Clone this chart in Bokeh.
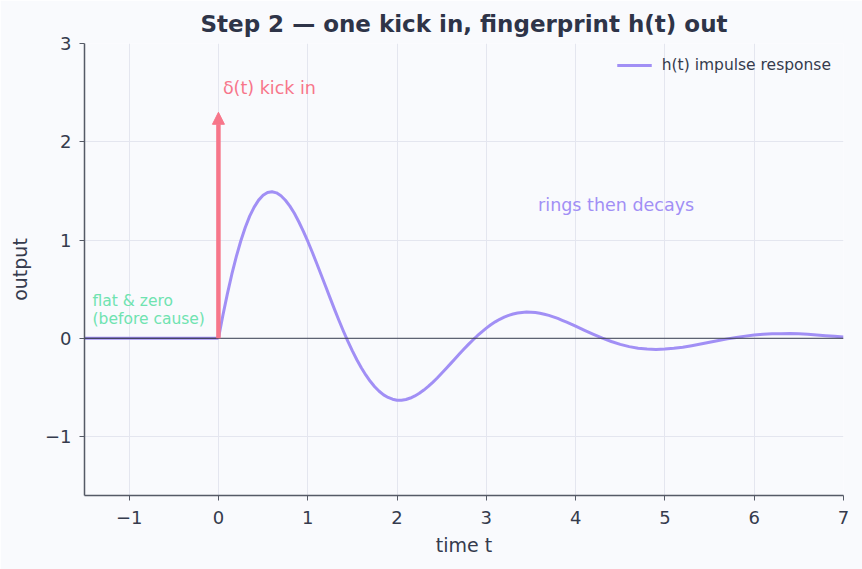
from bokeh.plotting import figure
from bokeh.models import Arrow, NormalHead, Span, Label, Legend, LegendItem, Range1d, FixedTicker
from bokeh.embed import file_html
from bokeh.resources import INLINE

# ---- data ----
t_flat = [-1.5, 0.0]
h_flat = [0.0, 0.0]
t_resp = [0.0, 0.05, 0.1, 0.15, 0.2, 0.25, 0.3, 0.35, 0.4, 0.45,
          0.5, 0.55, 0.6, 0.65, 0.7, 0.75, 0.8, 0.85, 0.9, 0.95,
          1.0, 1.05, 1.1, 1.15, 1.2, 1.25, 1.3, 1.35, 1.4, 1.45,
          1.5, 1.55, 1.6, 1.65, 1.7, 1.75, 1.8, 1.85, 1.9, 1.95,
          2.0, 2.05, 2.1, 2.15, 2.2, 2.25, 2.3, 2.35, 2.4, 2.45,
          2.5, 2.55, 2.6, 2.65, 2.7, 2.75, 2.8, 2.85, 2.9, 2.95,
          3.0, 3.05, 3.1, 3.15, 3.2, 3.25, 3.3, 3.35, 3.4, 3.45,
          3.5, 3.55, 3.6, 3.65, 3.7, 3.75, 3.8, 3.85, 3.9, 3.95,
          4.0, 4.1, 4.2, 4.3, 4.4, 4.5, 4.6, 4.7, 4.8, 4.9,
          5.0, 5.1, 5.2, 5.3, 5.4, 5.5, 5.6, 5.7, 5.8, 5.9,
          6.0, 6.1, 6.2, 6.3, 6.4, 6.5, 6.6, 6.7, 6.8, 6.9, 7.0]
h_resp = [0.0, 0.234, 0.452, 0.652, 0.831, 0.990, 1.127, 1.243, 1.335, 1.406,
          1.455, 1.484, 1.492, 1.480, 1.451, 1.405, 1.345, 1.272, 1.186, 1.091,
          0.988, 0.878, 0.764, 0.647, 0.529, 0.411, 0.294, 0.181, 0.072, -0.031,
          -0.128, -0.218, -0.300, -0.373, -0.438, -0.493, -0.539, -0.576, -0.602, -0.620,
          -0.630, -0.630, -0.623, -0.608, -0.587, -0.560, -0.527, -0.490, -0.448, -0.404,
          -0.356, -0.307, -0.258, -0.208, -0.158, -0.109, -0.062, -0.017, 0.026, 0.066,
          0.103, 0.137, 0.167, 0.193, 0.215, 0.233, 0.247, 0.257, 0.263, 0.267,
          0.266, 0.262, 0.255, 0.245, 0.233, 0.218, 0.202, 0.183, 0.165, 0.145,
          0.123, 0.081, 0.040, 0.001, -0.033, -0.062, -0.085, -0.101, -0.110, -0.113,
          -0.110, -0.102, -0.091, -0.075, -0.059, -0.041, -0.023, -0.006, 0.009, 0.022,
          0.033, 0.041, 0.045, 0.047, 0.048, 0.045, 0.040, 0.034, 0.027, 0.020, 0.012]
kick_t = 0.0
kick_height = 2.3
x_ticks = [-1, 0, 1, 2, 3, 4, 5, 6, 7]
y_ticks = [-1, 0, 1, 2, 3]

FONT = "DejaVu Sans"
PURPLE = "#a18ff5"
RED = "#f7768a"
GREEN = "#6fe3b0"
DARK = "#353b4d"
BG = "#f9fafd"

p = figure(width=862, height=569, output_backend="svg", toolbar_location=None,
           x_range=Range1d(-1.5, 7), y_range=Range1d(-1.6, 3),
           min_border_left=84, min_border_right=19, min_border_top=43, min_border_bottom=74,
           background_fill_color=BG, border_fill_color=BG)
p.outline_line_color = None

p.title.text = "Step 2 \u2014 one kick in, fingerprint h(t) out"
p.title.align = "center"
p.title.text_font = FONT
p.title.text_font_size = "23px"
p.title.text_font_style = "bold"
p.title.text_color = "#2e3448"
p.title.offset = 0
p.title.standoff = 13

for ax in (p.xaxis, p.yaxis):
    ax.axis_line_color = "#555a66"
    ax.axis_line_width = 1.5
    ax.major_tick_line_color = "#555a66"
    ax.major_tick_in = 0
    ax.major_tick_out = 5
    ax.minor_tick_line_color = None
    ax.major_label_text_font = FONT
    ax.major_label_text_font_size = "18px"
    ax.major_label_text_color = DARK
    ax.axis_label_text_font = FONT
    ax.axis_label_text_font_size = "19px"
    ax.axis_label_text_font_style = "normal"
    ax.axis_label_text_color = DARK
p.xaxis.ticker = FixedTicker(ticks=x_ticks)
p.yaxis.ticker = FixedTicker(ticks=y_ticks)
p.xaxis.axis_label = "time t"
p.yaxis.axis_label = "output"
p.xaxis.major_label_overrides = {-1: "\u22121"}
p.yaxis.major_label_overrides = {-1: "\u22121"}
p.xaxis.major_label_standoff = 10
p.xaxis.axis_label_standoff = 7
p.yaxis.major_label_standoff = 8
p.yaxis.axis_label_standoff = 11

p.xgrid.ticker = FixedTicker(ticks=x_ticks)
p.ygrid.ticker = FixedTicker(ticks=y_ticks)
p.grid.grid_line_color = "#e4e6ef"
p.grid.grid_line_width = 1

zero = Span(location=0, dimension="width", line_color="#3a3f4f", line_width=1)
p.add_layout(zero)

flat = p.line(t_flat, h_flat, line_color=PURPLE, line_width=3)
resp = p.line(t_resp, h_resp, line_color=PURPLE, line_width=3, line_join="round")
p.line(t_flat, h_flat, line_color="#4a4575", line_width=1.2, line_alpha=0.6)

arrow = Arrow(end=NormalHead(size=12, fill_color=RED, line_color=RED),
              x_start=kick_t, y_start=0, x_end=kick_t, y_end=kick_height,
              line_color=RED, line_width=4.5)
p.add_layout(arrow)

p.add_layout(Label(x=0.05, y=2.45, text="\u03b4(t) kick in", text_font=FONT,
                   text_font_size="17.5px", text_color=RED))
p.add_layout(Label(x=3.58, y=1.25, text="rings then decays", text_font=FONT,
                   text_font_size="17.5px", text_color=PURPLE))
p.add_layout(Label(x=-1.41, y=0.1, text="flat & zero\n(before cause)", text_font=FONT,
                   text_font_size="15.5px", text_color=GREEN, text_line_height=1.05))

legend = Legend(items=[LegendItem(label="h(t) impulse response", renderers=[resp])],
                location="top_right", background_fill_alpha=0, border_line_color=None,
                label_text_font=FONT, label_text_font_size="15.5px", label_text_color=DARK,
                glyph_width=35, label_standoff=10, margin=12, padding=8)
p.add_layout(legend)

open("out.html", "w").write(file_html(p, INLINE))
